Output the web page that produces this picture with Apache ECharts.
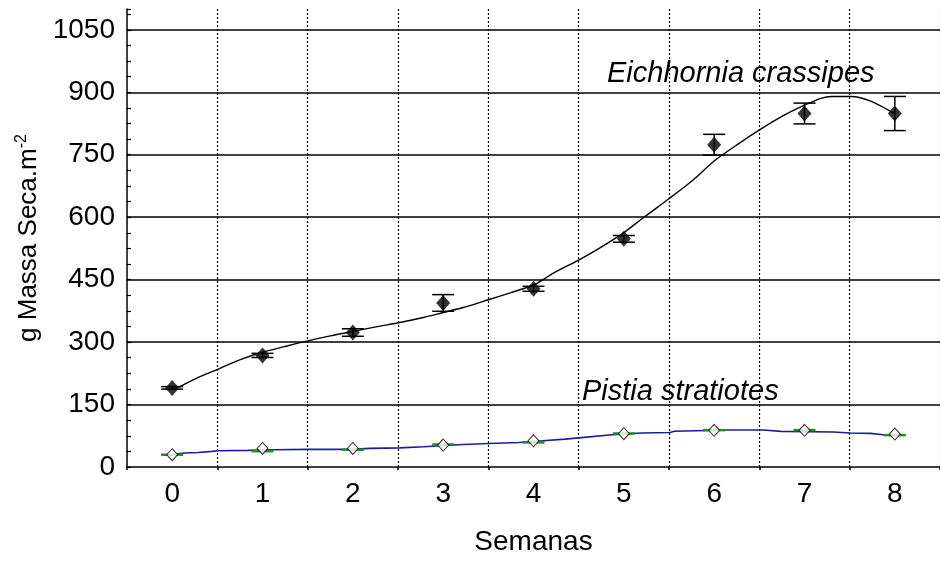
<!DOCTYPE html>
<html>
<head>
<meta charset="utf-8">
<script src="https://cdn.jsdelivr.net/npm/echarts@6/dist/echarts.min.js"></script>
<style>
html,body{margin:0;padding:0;background:#fff;}
#chart{width:940px;height:561px;}
</style>
</head>
<body>
<div id="chart"></div>
<script>
// ---- data ----
const weeks = [0, 1, 2, 3, 4, 5, 6, 7, 8];
const weekLabels = ['0', '1', '2', '3', '4', '5', '6', '7', '8'];
const yTicks = [0, 150, 300, 450, 600, 750, 900, 1050];

const eichMean = [190, 268, 323, 394, 428, 548, 774, 849, 849];
const eichErr  = [3, 5, 9, 20, 6, 8, 25, 25, 41];

const pistiaMean  = [29.6, 44.7, 44.7, 52.7, 63, 80, 88, 88, 79];
const pistiaGreen = [29.5, 38, 41.5, 54, 59, 80.5, 88.5, 88.5, 76.5];

const eichFitX = [0.07, 0.29, 0.51, 0.77, 0.99, 1.24, 1.50, 1.75, 1.99, 2.27, 2.52, 2.78, 3.00, 3.22, 3.49, 3.75, 4.01, 4.23, 4.50, 4.74, 5.00, 5.23, 5.51, 5.77, 6.00, 6.28, 6.52, 6.75, 6.97, 7.19, 7.30, 7.52, 7.74, 8.00];
const eichFitY = [191, 215, 235, 259, 275, 289, 303, 315, 325, 337, 347, 359, 371, 383, 401, 419, 438, 467, 497, 527, 563, 601, 646, 690, 735, 778, 812, 842, 866, 886, 890, 890, 878, 848];

const pistiaFitX = [0.03, 0.14, 0.29, 0.44, 0.51, 0.84, 1.13, 1.50, 1.97, 2.19, 2.52, 2.78, 3.22, 3.51, 3.84, 4.10, 4.35, 4.50, 4.87, 5.20, 5.51, 5.56, 6.15, 6.55, 6.74, 7.32, 7.51, 7.73, 7.87, 8.02];
const pistiaFitY = [31, 33.5, 35, 37.5, 39, 40, 41.5, 42.4, 42.4, 44.7, 46, 48.7, 54, 56.6, 59, 63, 67, 70, 77.5, 81.5, 83, 86, 88.7, 88.7, 85.5, 84, 81.5, 80.7, 77.5, 77.5];

// ---- chart ----
const FONT = 'Liberation Sans, Arial, sans-serif';
const chart = echarts.init(document.getElementById('chart'), null, {renderer: 'canvas'});

function errRender(color) {
  return function (params, api) {
    const x = api.value(0), lo = api.value(1), hi = api.value(2);
    const a = api.coord([x, lo]), b = api.coord([x, hi]);
    const hw = 11;
    const st = {stroke: color, lineWidth: 1.5};
    return {type: 'group', children: [
      {type: 'line', shape: {x1: a[0], y1: a[1], x2: b[0], y2: b[1]}, style: st},
      {type: 'line', shape: {x1: a[0] - hw, y1: a[1], x2: a[0] + hw, y2: a[1]}, style: st},
      {type: 'line', shape: {x1: b[0] - hw, y1: b[1], x2: b[0] + hw, y2: b[1]}, style: st}
    ]};
  };
}
function greenRender(params, api) {
  const p = api.coord([api.value(0), api.value(1)]);
  return {type: 'line', shape: {x1: p[0] - 11, y1: p[1], x2: p[0] + 11, y2: p[1]},
          style: {stroke: '#1f8f1f', lineWidth: 2.5}};
}

const option = {
  animation: false,
  backgroundColor: '#fff',
  grid: {left: 127, top: 9, right: -6, bottom: 93, containLabel: false},
  xAxis: [
    {
      type: 'category', data: weekLabels, boundaryGap: true,
      axisLine: {onZero: false, lineStyle: {color: '#000', width: 1.5}},
      axisTick: {show: true, interval: 0, length: 3, lineStyle: {color: '#000', width: 1.5}},
      axisLabel: {interval: 0, color: '#000', fontSize: 28, fontFamily: FONT, margin: 13},
      splitLine: {show: true, interval: 0, showMinLine: false,
                  lineStyle: {color: '#000', width: 1.2, type: [2, 2]}},
      name: 'Semanas', nameLocation: 'middle', nameGap: 61,
      nameTextStyle: {color: '#000', fontSize: 28, fontFamily: FONT}
    },
    {type: 'value', min: -0.5, max: 8.5, show: false, axisLine: {onZero: false}}
  ],
  yAxis: {
    type: 'value', min: 0, max: 1100, interval: 150,
    axisLine: {show: true, onZero: false, lineStyle: {color: '#000', width: 1.5}},
    axisTick: {show: true, inside: true, length: 4, lineStyle: {color: '#000', width: 1.2}},
    minorTick: {show: true, splitNumber: 4, length: 4, lineStyle: {color: '#000', width: 1.2}},
    axisLabel: {color: '#000', fontSize: 28, fontFamily: FONT, margin: 12, showMaxLabel: false,
      formatter: v => (yTicks.indexOf(v) >= 0 ? String(v) : '')},
    splitLine: {show: true, showMinLine: false, showMaxLine: false,
                lineStyle: {color: '#000', width: 1.5}},
    name: 'g Massa Seca.m{sup|-2}', nameLocation: 'middle', nameGap: 84,
    nameTextStyle: {color: '#000', fontSize: 26, fontFamily: FONT,
      rich: {sup: {fontSize: 16, fontFamily: FONT, color: '#000', verticalAlign: 'top', padding: [0, 0, 13, 0]}}}
  },
  series: [
    {
      type: 'line', xAxisIndex: 1, smooth: 0.3, showSymbol: false, z: 2,
      data: eichFitX.map((x, i) => [x, eichFitY[i]]),
      lineStyle: {color: '#000', width: 1.4}
    },
    {
      type: 'line', xAxisIndex: 1, smooth: false, showSymbol: false, z: 2,
      data: pistiaFitX.map((x, i) => [x, pistiaFitY[i]]),
      lineStyle: {color: '#1c1c9c', width: 1.6}
    },
    {
      type: 'custom', xAxisIndex: 1, z: 3, renderItem: errRender('#000'),
      encode: {x: 0, y: [1, 2]},
      data: weeks.map((w, i) => [w, eichMean[i] - eichErr[i], eichMean[i] + eichErr[i]])
    },
    {
      type: 'custom', xAxisIndex: 1, z: 3, renderItem: greenRender,
      encode: {x: 0, y: 1},
      data: weeks.map((w, i) => [w, pistiaGreen[i]])
    },
    {
      type: 'scatter', xAxisIndex: 1, z: 4, symbol: 'diamond', symbolSize: [14, 16],
      itemStyle: {color: '#000'},
      data: weeks.map((w, i) => [w, eichMean[i]])
    },
    {
      type: 'scatter', xAxisIndex: 1, z: 4, symbol: 'diamond', symbolSize: [11, 12],
      itemStyle: {color: '#fff', borderColor: '#000', borderWidth: 1},
      data: weeks.map((w, i) => [w, pistiaMean[i]])
    }
  ],
  graphic: [
    {type: 'text', left: 607, top: 59, z: 10,
     style: {text: 'Eichhornia crassipes', fontSize: 29, fontStyle: 'italic', fontFamily: FONT, fill: '#000'}},
    {type: 'text', left: 582, top: 377, z: 10,
     style: {text: 'Pistia stratiotes', fontSize: 29, fontStyle: 'italic', fontFamily: FONT, fill: '#000'}}
  ]
};
chart.setOption(option);
</script>
</body>
</html>
